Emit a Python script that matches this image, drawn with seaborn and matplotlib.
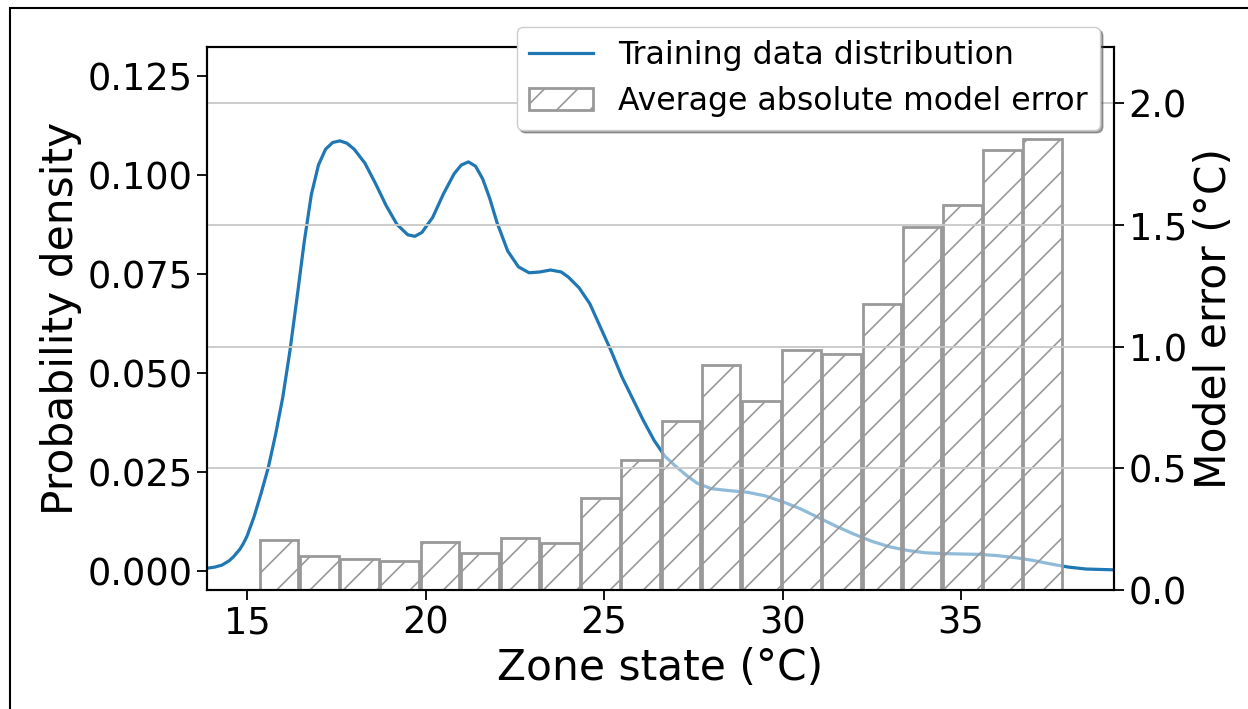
import seaborn as sns
import matplotlib.pyplot as plt
from matplotlib.patches import Rectangle

# KDE of the training data
zone_temp = [13.88, 14.1, 14.3, 14.5, 14.62, 14.8, 14.9, 15.0, 15.2, 15.4, 15.6, 15.8,
             16.0, 16.2, 16.4, 16.6, 16.8, 17.0, 17.2, 17.4, 17.6, 17.8, 18.0, 18.3,
             18.6, 18.9, 19.2, 19.5, 19.7, 19.9, 20.2, 20.5, 20.8, 21.0, 21.2, 21.4,
             21.6, 21.8, 22.0, 22.3, 22.6, 22.9, 23.2, 23.5, 23.8, 24.0, 24.3, 24.6,
             24.9, 25.2, 25.5, 25.8, 26.1, 26.4, 26.7, 27.0, 27.3, 27.6, 28.0, 28.5,
             29.0, 29.5, 30.0, 30.5, 31.0, 31.5, 32.0, 32.5, 33.0, 33.5, 34.0, 34.5,
             35.0, 35.5, 36.0, 36.5, 37.0, 37.5, 38.0, 38.5, 39.28]
density = [0.0007, 0.0010, 0.0015, 0.0026, 0.0036, 0.0055, 0.0070, 0.0088, 0.0138,
           0.0198, 0.0263, 0.0345, 0.0438, 0.0555, 0.0690, 0.0830, 0.0950, 0.1025,
           0.1065, 0.1082, 0.1086, 0.1080, 0.1065, 0.1030, 0.0978, 0.0922, 0.0875,
           0.0849, 0.0845, 0.0855, 0.0893, 0.0952, 0.1003, 0.1025, 0.1033, 0.1022,
           0.0990, 0.0940, 0.0880, 0.0808, 0.0768, 0.0753, 0.0755, 0.0760, 0.0755,
           0.0742, 0.0715, 0.0675, 0.0615, 0.0555, 0.0490, 0.0435, 0.0380, 0.0330,
           0.0290, 0.0265, 0.0242, 0.0222, 0.0208, 0.0203, 0.0199, 0.0190, 0.0175,
           0.0157, 0.0135, 0.0113, 0.0093, 0.0075, 0.0061, 0.0052, 0.0046, 0.0044,
           0.0043, 0.0042, 0.0039, 0.0034, 0.0027, 0.0018, 0.0010, 0.0005, 0.0003]

# average absolute model error per temperature bin (right axis)
bin_centers = [15.90, 17.03, 18.15, 19.28, 20.40, 21.53, 22.65, 23.78, 24.90, 26.03,
               27.15, 28.28, 29.40, 30.53, 31.65, 32.78, 33.90, 35.03, 36.15, 37.28]
model_error = [0.207, 0.140, 0.129, 0.118, 0.198, 0.151, 0.215, 0.195, 0.379, 0.536,
               0.693, 0.926, 0.776, 0.986, 0.968, 1.173, 1.490, 1.580, 1.807, 1.852]

width = bin_centers[1] - bin_centers[0]
bin_range = (bin_centers[0] - width / 2, bin_centers[-1] + width / 2)

plt.rcParams["hatch.linewidth"] = 1.2

fig = plt.figure(figsize=(12.48, 7.09), dpi=100)
ax1 = fig.add_axes([0.1659, 0.1678, 0.7267, 0.7659])
ax2 = ax1.twinx()

sns.lineplot(x=zone_temp, y=density, ax=ax1, color="#1f77b4", linewidth=2.3)

sns.histplot(x=bin_centers, weights=model_error, bins=len(bin_centers), binrange=bin_range,
             shrink=0.96, ax=ax2, facecolor=(1, 1, 1, 0.5), edgecolor="#999999",
             linewidth=2.0, hatch="/")

ax1.set_xlim(13.88, 39.28)
ax1.set_ylim(-0.0048, 0.1323)
ax2.set_ylim(0, 2.23)
ax1.set_xticks([15, 20, 25, 30, 35])
ax1.set_yticks([0, 0.025, 0.05, 0.075, 0.1, 0.125])
ax2.set_yticks([0, 0.5, 1.0, 1.5, 2.0])
ax2.grid(axis="y", color="#c8c8c8", linewidth=1.3)

ax1.set_xlabel("Zone state (°C)", fontsize=30.5)
ax1.set_ylabel("Probability density", fontsize=30.5)
ax2.set_ylabel("Model error (°C)", fontsize=30.5)
for ax in (ax1, ax2):
    ax.tick_params(labelsize=26.5, length=7, width=1.3)
    for s in ax.spines.values():
        s.set_linewidth(1.5)

handles = [ax1.get_lines()[0], ax2.patches[0]]
labels = ["Training data distribution", "Average absolute model error"]
ax2.legend(handles, labels, loc="upper right", bbox_to_anchor=(1100 / 1248, 1 - 27 / 709),
           bbox_transform=fig.transFigure, borderaxespad=0, fontsize=22.7,
           shadow=True, fancybox=True, framealpha=1)

# frame around the figure
fig.add_artist(Rectangle((10 / 1248, -0.1), 1.2, 1.1 - 8 / 709, transform=fig.transFigure,
                         fill=False, edgecolor="black", linewidth=1.5))

plt.savefig("out.png", dpi=100)
